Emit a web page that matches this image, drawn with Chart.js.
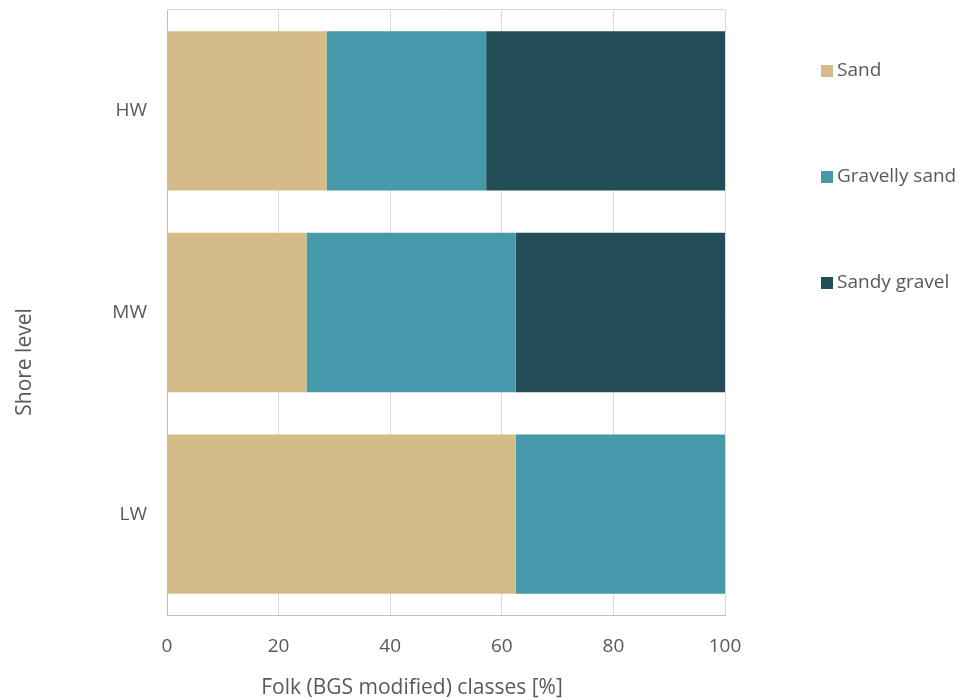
<!DOCTYPE html>
<html>
<head>
<meta charset="utf-8">
<script src="https://cdn.jsdelivr.net/npm/chart.js@4/dist/chart.umd.min.js"></script>
<style>
  html, body { margin: 0; padding: 0; background: #fff; }
  #wrap { width: 965px; height: 700px; }
</style>
</head>
<body>
<div id="wrap"><canvas id="chart"></canvas></div>
<script>
const levels = ['HW', 'MW', 'LW'];
const sand = [28.6, 25, 62.5];
const gravellySand = [28.6, 37.5, 37.5];
const sandyGravel = [42.8, 37.5, 0];
const xTicks = [0, 20, 40, 60, 80, 100];

const textColor = '#595959';
const fontFamily = "'Open Sans', 'Noto Sans', sans-serif";

// legend on the right and the two axis titles, drawn after the chart
const sideText = {
  id: 'sideText',
  afterDraw(chart) {
    const ctx = chart.ctx;
    ctx.save();
    ctx.font = '19px ' + fontFamily;
    ctx.textBaseline = 'middle';
    chart.data.datasets.forEach((ds, i) => {
      const y = 71 + i * 106;
      ctx.fillStyle = ds.backgroundColor;
      ctx.fillRect(821, y - 6, 12, 12);
      ctx.fillStyle = textColor;
      ctx.fillText(ds.label, 837, y);
    });

    ctx.font = '21px ' + fontFamily;
    ctx.textAlign = 'center';
    ctx.fillText('Folk (BGS modified) classes [%]', 412, 688);
    ctx.translate(25, 362);
    ctx.rotate(-Math.PI / 2);
    ctx.fillText('Shore level', 0, 0);
    ctx.restore();
  }
};

const ctx = document.getElementById('chart').getContext('2d');
const myChart = new Chart(ctx, {
  type: 'bar',
  data: {
    labels: levels,
    datasets: [
      { label: 'Sand', data: sand, backgroundColor: '#d5bb87' },
      { label: 'Gravelly sand', data: gravellySand, backgroundColor: '#4599a8' },
      { label: 'Sandy gravel', data: sandyGravel, backgroundColor: '#244e57' }
    ]
  },
  options: {
    indexAxis: 'y',
    responsive: true,
    maintainAspectRatio: false,
    animation: false,
    layout: {
      padding: { top: 10, right: 240, bottom: 0, left: 0 }
    },
    datasets: {
      bar: { barPercentage: 0.79, categoryPercentage: 1 }
    },
    plugins: {
      legend: { display: false },
      tooltip: { enabled: false }
    },
    scales: {
      x: {
        stacked: true,
        min: 0,
        max: 100,
        afterBuildTicks: scale => {
          scale.ticks = xTicks.map(v => ({ value: v }));
        },
        afterFit: scale => { scale.height = 85; },
        grid: { color: '#d9d9d9', drawTicks: false },
        border: { color: '#bfbfbf' },
        ticks: {
          color: textColor,
          padding: 20,
          font: { family: fontFamily, size: 19 }
        }
      },
      y: {
        stacked: true,
        afterFit: scale => {
          scale.width = 167;
          scale.paddingTop = 0;
          scale.paddingBottom = 0;
        },
        grid: {
          drawTicks: false,
          color: c => (c.index === 0 ? '#d9d9d9' : 'transparent')
        },
        border: { color: '#bfbfbf' },
        ticks: {
          color: textColor,
          padding: 20,
          font: { family: fontFamily, size: 19 }
        }
      }
    }
  },
  plugins: [sideText]
});
</script>
</body>
</html>
